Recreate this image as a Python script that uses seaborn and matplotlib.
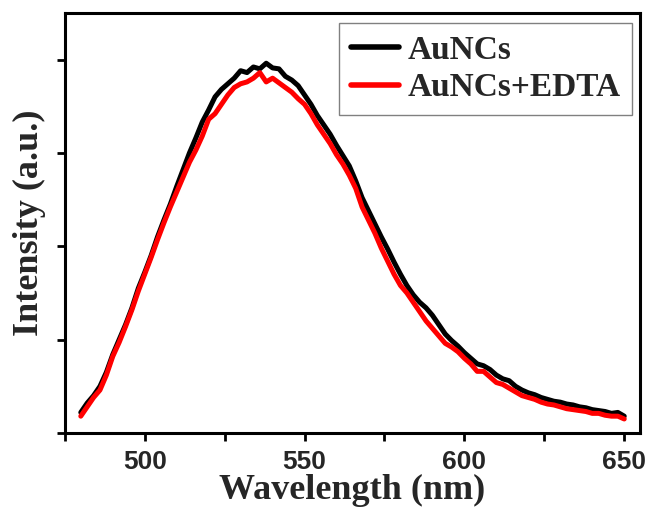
import numpy as np
import pandas as pd
import seaborn as sns
import matplotlib
matplotlib.use("Agg")
import matplotlib.pyplot as plt
from matplotlib.ticker import MultipleLocator, NullFormatter

wavelength = list(range(480, 651, 2))

aunc = [0.22, 0.32, 0.40, 0.50, 0.65, 0.84, 1.00, 1.16, 1.34, 1.55,
        1.72, 1.90, 2.10, 2.28, 2.45, 2.64, 2.82, 3.00, 3.16, 3.33,
        3.46, 3.60, 3.68, 3.74, 3.80, 3.88, 3.86, 3.92, 3.90, 3.96,
        3.91, 3.90, 3.82, 3.78, 3.72, 3.62, 3.52, 3.40, 3.30, 3.20,
        3.08, 2.97, 2.86, 2.70, 2.52, 2.38, 2.24, 2.10, 1.97, 1.83,
        1.70, 1.58, 1.48, 1.40, 1.34, 1.26, 1.16, 1.06, 0.99, 0.93,
        0.86, 0.80, 0.74, 0.72, 0.68, 0.62, 0.58, 0.56, 0.50, 0.46,
        0.43, 0.41, 0.38, 0.36, 0.34, 0.33, 0.31, 0.30, 0.28, 0.27,
        0.25, 0.24, 0.23, 0.21, 0.22, 0.18]

aunc_edta = [0.18, 0.28, 0.38, 0.46, 0.62, 0.82, 0.97, 1.14, 1.32, 1.52,
             1.70, 1.88, 2.07, 2.25, 2.42, 2.58, 2.74, 2.90, 3.03, 3.18,
             3.36, 3.42, 3.52, 3.62, 3.70, 3.74, 3.76, 3.80, 3.86, 3.76,
             3.80, 3.75, 3.70, 3.65, 3.58, 3.52, 3.42, 3.30, 3.20, 3.10,
             2.98, 2.88, 2.76, 2.62, 2.42, 2.28, 2.14, 1.98, 1.84, 1.70,
             1.58, 1.50, 1.40, 1.30, 1.20, 1.12, 1.04, 0.96, 0.92, 0.87,
             0.80, 0.74, 0.66, 0.66, 0.60, 0.54, 0.52, 0.48, 0.44, 0.40,
             0.38, 0.36, 0.33, 0.31, 0.30, 0.28, 0.26, 0.25, 0.24, 0.23,
             0.21, 0.21, 0.19, 0.18, 0.18, 0.15]

labels = ["AuNCs", "AuNCs+EDTA"]
colors = ["#000000", "#ff0000"]

df = pd.concat([
    pd.DataFrame({"Wavelength": wavelength, "Intensity": aunc, "Sample": labels[0]}),
    pd.DataFrame({"Wavelength": wavelength, "Intensity": aunc_edta, "Sample": labels[1]}),
])

sns.set_style("white")
fig = plt.figure(figsize=(6.48, 5.13), dpi=100)
ax = fig.add_axes([0.100, 0.156, 0.888, 0.819])

sns.lineplot(data=df, x="Wavelength", y="Intensity", hue="Sample",
             palette=dict(zip(labels, colors)), linewidth=3.6, ax=ax,
             estimator=None, sort=False)

ax.set_xlim(475, 655)
ax.set_ylim(0, 4.5)
ax.xaxis.set_major_locator(MultipleLocator(50))
ax.xaxis.set_minor_locator(MultipleLocator(25))
ax.yaxis.set_major_locator(MultipleLocator(1))
ax.yaxis.set_major_formatter(NullFormatter())

for s in ax.spines.values():
    s.set_linewidth(2.2)
    s.set_color("black")

ax.tick_params(axis="both", which="both", direction="out", length=6, width=2,
               color="black", bottom=True, left=True, top=False, right=False)
ax.tick_params(axis="x", labelsize=19, pad=6)
for lab in ax.get_xticklabels():
    lab.set_fontfamily("Liberation Sans")
    lab.set_fontweight("bold")

ax.set_xlabel("Wavelength (nm)", fontsize=26, fontweight="bold",
              fontfamily="Liberation Serif", labelpad=0)
ax.set_ylabel("Intensity (a.u.)", fontsize=26, fontweight="bold",
              fontfamily="Liberation Serif", labelpad=4)

leg = ax.legend(loc="upper right", bbox_to_anchor=(0.986, 0.976),
                borderaxespad=0.0,
                frameon=True, fancybox=False, framealpha=1, edgecolor="gray",
                prop={"family": "Liberation Serif", "weight": "bold", "size": 24},
                handlelength=1.45, handletextpad=0.25, borderpad=0.35,
                labelspacing=0.2)
leg.get_frame().set_linewidth(1.0)
for line in leg.get_lines():
    line.set_linewidth(4)

fig.savefig("out.png", dpi=100)
